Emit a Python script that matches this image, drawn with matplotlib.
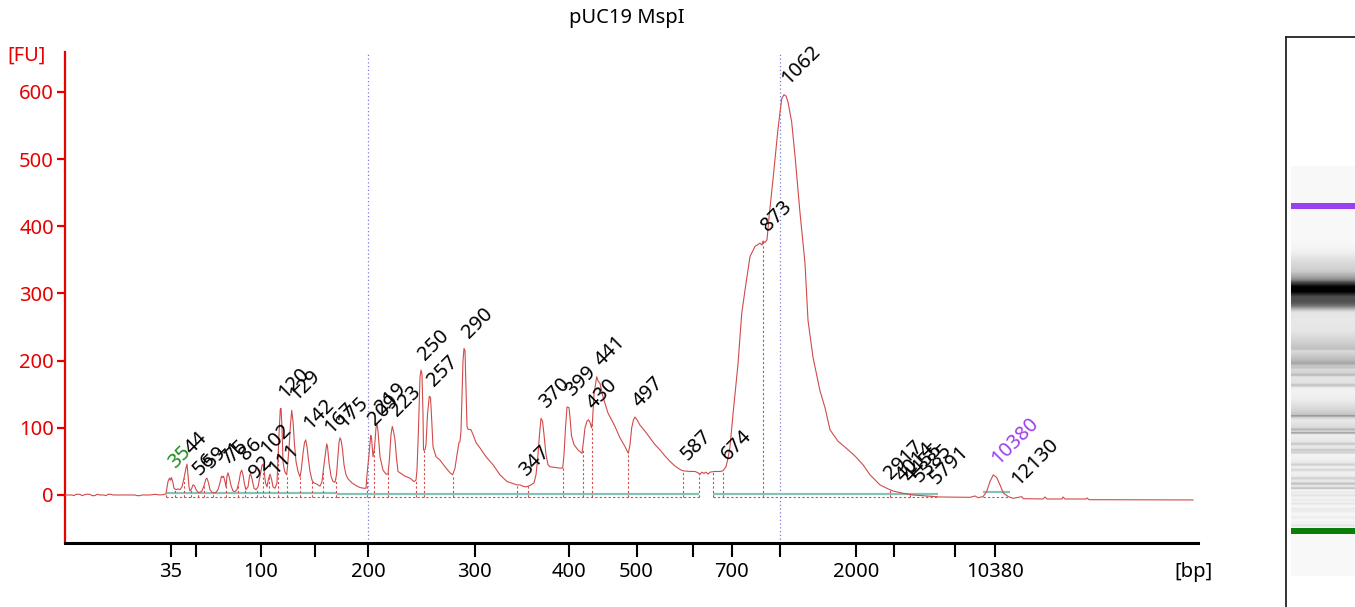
import numpy as np
import matplotlib
matplotlib.use('Agg')
import matplotlib.pyplot as plt
from matplotlib.patches import Rectangle

# ---------------- data ----------------
title = 'pUC19 MspI'

# ladder sizes (bp) and their migration positions (arbitrary migration units)
ladder_bp = [35, 50, 100, 150, 200, 300, 400, 500, 600, 700, 1000, 2000, 3000, 7000, 10380]
ladder_shown = ['35', '', '100', '', '200', '300', '400', '500', '', '700', '', '2000', '', '', '10380']
ladder_pos = [170.5, 196, 260.7, 314.7, 368, 474.6, 568.8, 636.6, 693, 731.6, 779.6, 855.8, 894, 954.6, 995]

# electropherogram trace: migration position, fluorescence [FU]
trace_pos = [65, 72, 74, 76, 80, 82, 86, 90, 92, 95, 97, 100, 104, 106, 108, 111, 113, 120, 135, 137,
             140, 142, 150, 155, 160, 165,
             166, 168, 169.5, 170.5, 171.5, 173, 174, 176, 178, 180, 182, 184, 186, 187, 188, 189, 190,
             191.5, 193, 194.5, 196, 198, 200, 202, 204, 206, 207, 208.5, 210, 212, 214, 216, 218, 220,
             221.5, 222.5, 223.5, 225, 226, 227, 228, 229.5, 231, 233, 235, 237, 239, 240.5, 241.7, 243,
             244.5, 246, 248, 249.5, 250.5, 252, 254, 256, 258, 260, 262, 263, 264, 265.5, 267, 268.5,
             270, 271.5, 273, 275, 277, 279, 280.3, 281, 282, 283, 284, 285, 286.7, 287.5, 289, 290.5,
             291.7, 293, 294.5, 296, 298, 300, 301.5, 303, 304.5, 305.7, 307, 308.5, 310, 312, 314, 317,
             320, 322, 324, 326, 326.7, 327.5, 329, 331, 333, 335, 336.5, 338, 339, 340, 341, 342.5, 344,
             346, 348, 352, 356, 360, 364, 366,
             367, 369, 370.7, 371.5, 373, 374.5, 376, 377, 378, 380, 383, 386, 388, 389.5, 391, 392.3,
             393.5, 395, 396.5, 398, 400, 405, 410, 414, 416, 417, 418.5, 420, 421, 422, 423, 423.5, 425,
             426, 427.5, 429.3, 430.5, 431.5, 433, 436, 440, 445, 450, 452.7, 455, 457, 459, 460, 461,
             462, 463, 464, 465, 466, 467, 468, 471, 473, 476, 480, 486, 493, 500, 507, 513, 517, 520,
             523, 526, 528, 531, 534, 536, 538, 539.5, 541, 542.5, 544, 546, 548, 550, 555, 560, 562.7,
             564, 565.5, 567, 569, 570, 571.5, 574, 578, 582, 583.5, 585, 587, 588.5, 590, 591.5, 592.5,
             594, 596.7, 598, 600, 603, 608, 615, 620, 625, 628.3, 630, 631.7, 633.5, 635, 637, 640, 645,
             650, 655, 660, 665, 670, 675, 680, 683, 690, 695, 698, 700, 702, 704, 706, 708, 710, 715,
             720, 723, 726, 728, 730, 733, 738, 741.7, 745, 750, 755, 760, 762, 763, 765, 767, 769, 773,
             778, 781.7, 784, 786, 788, 791.7, 795, 800, 805, 808, 813, 820, 825, 830, 838, 846, 855, 863,
             870, 880, 886.7, 893, 903, 913, 926, 940, 970, 975, 978, 983, 986.7, 990, 993.3, 996.7, 1000,
             1003.3, 1008.3, 1013.3, 1021.7, 1023.3, 1043, 1045, 1047, 1062, 1063, 1065, 1086, 1087, 1089,
             1193]
trace_fu = [0, 0, -1, 1, 1, -1, 1, 1, -1, -1, 1, 0, 0, -1, 1, 1, 0, 0, 0, -1,
            -1, 0, 0, 1, 0, 1,
            2, 20, 25, 22, 26, 18, 10, 8, 9, 8, 12, 25, 40, 46, 30, 12, 6,
            9, 15, 14, 8, 4, 4, 6, 14, 24, 25, 18, 8, 4, 3, 4, 8, 18,
            28, 26, 28, 20, 12, 28, 33, 25, 14, 6, 5, 8, 20, 33, 37, 30,
            16, 8, 12, 28, 32, 24, 10, 8, 12, 28, 44, 46, 38, 18, 12, 24,
            31, 24, 12, 10, 18, 90, 128, 129, 100, 50, 40, 34, 30, 42, 70, 105,
            126, 110, 75, 50, 35, 27, 40, 62, 78, 82, 72, 52, 35, 22, 18, 16,
            13, 20, 45, 68, 76, 72, 48, 28, 20, 19, 30, 60, 78, 85, 82, 68, 45,
            30, 24, 18, 14, 11, 10, 10,
            30, 60, 89, 85, 57, 70, 100, 106, 95, 57, 37, 31, 31, 55, 90, 102,
            95, 82, 55, 35, 33, 28, 25, 20, 22, 37, 100, 175, 186, 180, 120, 67, 67,
            75, 120, 147, 145, 118, 72, 57, 52, 42, 33, 30, 40, 60, 78, 80, 95,
            150, 200, 218, 215, 160, 102, 98, 97, 90, 78, 70, 57, 45, 30, 20, 17, 15, 15,
            13, 12, 13, 15, 18, 30, 60, 90, 114, 110, 90, 60, 45, 42, 41, 40, 40,
            60, 100, 131, 130, 115, 88, 75, 67, 62, 80, 100, 110, 112, 108, 100, 110,
            150, 176, 170, 166, 146, 122, 102, 85, 72, 62, 75, 100, 112, 116, 112, 104, 95,
            85, 75, 67, 58, 50, 43, 38, 36, 35, 35, 33, 31, 34, 32, 34, 31, 34, 35,
            35, 36, 42, 55, 72, 120, 195, 270, 305, 355, 370, 375, 372, 378, 376, 380, 413, 470,
            545, 590, 596, 594, 585, 555, 505, 420, 345, 260, 205, 155, 130, 97, 80, 70, 58, 45,
            30, 15, 10, 6, 2.5, 0, -1.5, -3, -3.5, -1.5, -4, -2.5, 5, 20, 30, 26, 15,
            3, -2.5, -5, -2.5, -5.5, -6, -3, -6, -6, -3, -6, -6, -4.5, -7,
            -7.4]

# peak annotations
peak_labels = ['35', '44', '56', '59', '71', '75', '86', '92', '102', '111', '120', '129', '142',
               '167', '175', '209', '219', '223', '250', '257', '290', '347', '370', '399', '430',
               '441', '497', '587', '674', '873', '1062', '2917', '4014', '4455', '5385', '5791',
               '10380', '12130']
peak_pos = [170.5, 187, 195, 206.5, 222.5, 228, 241.7, 251, 262.5, 271, 280.7, 291.7, 305.7,
            326.7, 340, 370.7, 377, 392.3, 420.7, 429.3, 464, 521, 541, 567, 589,
            596.7, 635, 683, 723, 763, 784, 886, 898, 906, 915, 932,
            993.3, 1014]
peak_fu = [25, 46, 14, 25, 30, 33, 37, 10, 45, 15, 129, 126, 82,
           76, 85, 89, 106, 102, 186, 147, 218, 12, 114, 131, 112,
           176, 116, 36, 36, 378, 596, 8, 5, 4, 3, 1,
           30, -1]
marker_lower, marker_upper = '35', '10380'

# peak boundaries (dashed drop lines)
boundary_pos = [166, 175, 184, 190.7, 198.3, 204, 213.3, 225.7, 238.3, 245, 256.7, 263.3, 269.3,
                278.3, 286.7, 300, 311.7, 323.3, 335.7, 366.7, 374.3, 388.3, 416, 424.3, 452.7,
                516.7, 528.3, 562.7, 582.7, 592.3, 628.3, 682.7, 699, 712.7, 722.7, 763.3,
                890, 910, 926.7, 938, 983, 1010]
# fitted baseline segments (start, end, FU)
baseline_start = [166, 337, 712.7, 890, 983]
baseline_end = [337, 699, 890, 938, 1010]
baseline_fu = [3.5, 1.0, 1.0, 2.0, 4.0]
# region markers (bp)
region_bp = [200, 1000]

# ---------------- style ----------------
W, H, DPI = 1355, 607, 100
RED = '#e60000'
TRACE = '#d24a4a'
TEAL = '#86c2b6'
BLUE = '#7b7bd6'
GREEN = '#1e8c1e'
PURPLE = '#9b40f0'
FS = 14.5
plt.rcParams['font.family'] = ['Noto Sans', 'DejaVu Sans']

fig = plt.figure(figsize=(W / DPI, H / DPI), dpi=DPI)


def fx(px):
    return px / W


def fy(py):
    return 1 - py / H


ax = fig.add_axes([fx(65), fy(543), fx(1198) - fx(65), fy(52) - fy(543)])
ax.set_xlim(65, 1198)
ax.set_ylim(-71.5, 659.5)
for s in ['top', 'right']:
    ax.spines[s].set_visible(False)
ax.spines['left'].set_color(RED)
ax.spines['left'].set_linewidth(1.6)
ax.spines['bottom'].set_color('black')
ax.spines['bottom'].set_linewidth(2.2)

# region markers
pos_of = dict(zip(ladder_bp, ladder_pos))
for r in region_bp:
    ax.axvline(pos_of[r], color=BLUE, ls=(0, (1, 2)), lw=0.9, zorder=1)

# baseline segments
ax.hlines(baseline_fu, baseline_start, baseline_end, colors=TEAL, lw=1.6, zorder=2)
ax.hlines([-3] * len(baseline_start), baseline_start, baseline_end, colors=TRACE, lw=0.8,
          linestyles=(0, (2, 2)), zorder=2)

# drop lines
tops = np.interp(boundary_pos, trace_pos, trace_fu)
ax.vlines(boundary_pos, -3, tops, colors=TRACE, lw=0.8, linestyles=(0, (2, 2)), zorder=2)

# trace
ax.plot(trace_pos, trace_fu, color=TRACE, lw=0.8, zorder=3)

# peak labels
for lab, x, y in zip(peak_labels, peak_pos, peak_fu):
    c = GREEN if lab == marker_lower else PURPLE if lab == marker_upper else 'black'
    ax.annotate(lab, (x, y), xytext=(-6, 6), textcoords='offset pixels', rotation=45,
                ha='left', va='bottom', fontsize=FS, color=c, annotation_clip=False, zorder=4)

# axes ticks
ax.set_yticks(range(0, 601, 100))
ax.tick_params(axis='y', colors=RED, length=6, width=1.6, labelsize=FS, pad=2)
ax.set_xticks(ladder_pos, ladder_shown)
ax.tick_params(axis='x', colors='black', length=10, width=1.5, labelsize=FS, pad=4)

fig.text(fx(27), fy(56), '[FU]', color=RED, ha='center', va='center', fontsize=FS)
fig.text(fx(1194), fy(572), '[bp]', color='black', ha='center', va='center', fontsize=FS)
fig.text(fx(627), fy(18), title, color='black', ha='center', va='center', fontsize=FS)

# ---------------- gel lane ----------------
gax = fig.add_axes([fx(1286), fy(660), fx(1400) - fx(1286), fy(37) - fy(660)])
gax.set_xticks([])
gax.set_yticks([])
for s in ['right', 'bottom']:
    gax.spines[s].set_visible(False)
for s in ['left', 'top']:
    gax.spines[s].set_linewidth(1.3)
    gax.spines[s].set_color('#222222')

y_lo_marker, y_hi_marker = 531.0, 206.0
p_lo, p_hi = pos_of[35], pos_of[10380]
k = (y_lo_marker - y_hi_marker) / (p_hi - p_lo)
rows = np.arange(166, 576, 1.0)
sub = np.linspace(-0.5, 0.5, 9)
fu_rows = []
for yrow in rows:
    ps = p_lo + (y_lo_marker - (yrow + sub)) / k
    fu_rows.append(np.mean(np.interp(ps, trace_pos, trace_fu)))
fu_rows = np.clip(np.array(fu_rows), 0, None)
dark = np.clip(fu_rows / 560.0, 0, 1) ** 0.95
gray = 0.975 * (1 - dark)
img = np.repeat(gray[:, None], 2, axis=1)
img = np.dstack([img, img, img])
gax.imshow(img, extent=(1291, 1362, 576, 166), aspect='auto', interpolation='bilinear', zorder=1)
gax.add_patch(Rectangle((1291, y_hi_marker - 3), 71, 6, color=PURPLE, lw=0, zorder=2))
gax.add_patch(Rectangle((1291, y_lo_marker - 3), 71, 6, color='#0a7d0a', lw=0, zorder=2))
gax.set_xlim(1286, 1400)
gax.set_ylim(660, 37)

fig.savefig('out.png', dpi=DPI)
